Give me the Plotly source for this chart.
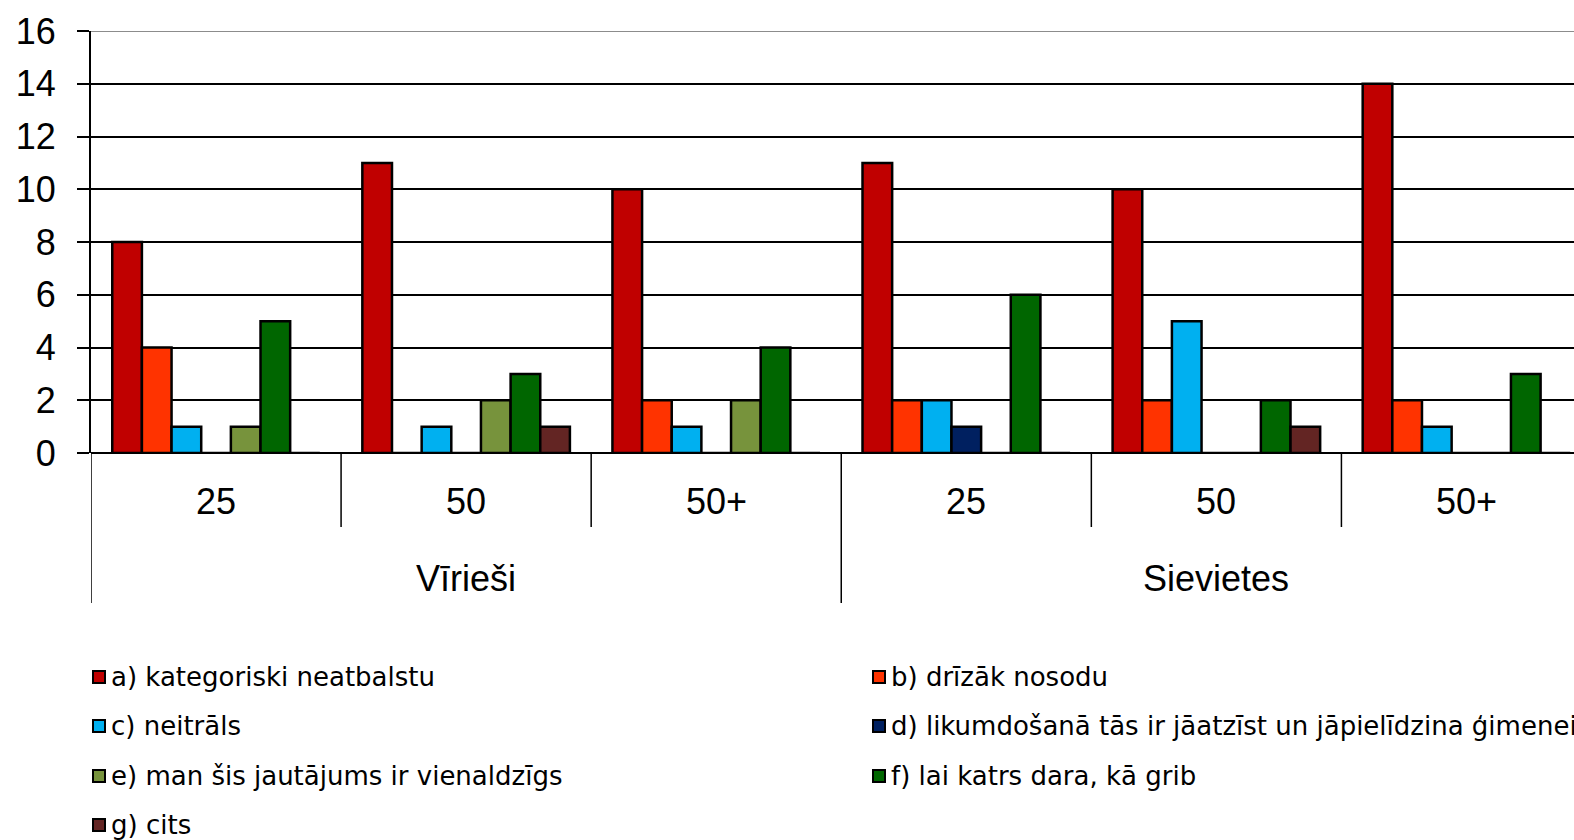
import plotly.graph_objects as go

# age groups within each gender
age_labels = ["25", "50", "50+", "25", "50", "50+"]
gender_labels = ["Vīrieši", "Sievietes"]

series_names = [
    "a) kategoriski neatbalstu",
    "b) drīzāk nosodu",
    "c) neitrāls",
    "d) likumdošanā tās ir jāatzīst un jāpielīdzina ģimenei",
    "e) man šis jautājums ir vienaldzīgs",
    "f) lai katrs dara, kā grib",
    "g) cits",
]
a_vals = [8, 11, 10, 11, 10, 14]
b_vals = [4, 0, 2, 2, 2, 2]
c_vals = [1, 1, 1, 2, 5, 1]
d_vals = [0, 0, 0, 1, 0, 0]
e_vals = [1, 2, 2, 0, 0, 0]
f_vals = [5, 3, 4, 6, 2, 3]
g_vals = [0, 1, 0, 0, 1, 0]
all_vals = [a_vals, b_vals, c_vals, d_vals, e_vals, f_vals, g_vals]

colors = ["#C00000", "#FF3300", "#00B0F0", "#002060", "#77933C", "#006600", "#632523"]

FONT = "Liberation Sans, Arial, sans-serif"
LEG_FONT = "DejaVu Sans, Verdana, sans-serif"

W, H = 1574, 840
ML, MR, MT, MB = 91, 0, 31, 387
PW, PH = W - ML - MR, H - MT - MB


def px_x(px):
    return (px - ML) / PW


def px_y(py):
    return (H - MB - py) / PH


x_pos = list(range(len(age_labels)))

fig = go.Figure()
for name, vals, col in zip(series_names, all_vals, colors):
    fig.add_trace(go.Bar(
        x=x_pos, y=vals, name=name, showlegend=False,
        marker=dict(color=col, line=dict(color="black", width=2.5)),
    ))

shapes = []
# gray top border
shapes.append(dict(type="line", xref="paper", yref="y", x0=0, x1=1, y0=16, y1=16,
                   line=dict(color="#8c8c8c", width=2)))
# dividers between age groups
for i in range(len(age_labels) + 1):
    xb = i - 0.5
    long_div = i % 3 == 0
    shapes.append(dict(type="line", xref="x", yref="paper", x0=xb, x1=xb,
                       y0=0, y1=px_y(603) if long_div else px_y(527),
                       line=dict(color="black", width=1.5)))

annotations = []
for i, lab in enumerate(age_labels):
    annotations.append(dict(x=i, y=px_y(502), xref="x", yref="paper", text=lab,
                            yanchor="middle", showarrow=False,
                            font=dict(size=36, color="black", family=FONT)))
for g, lab in enumerate(gender_labels):
    annotations.append(dict(x=g * 3 + 1, y=px_y(578), xref="x", yref="paper", text=lab,
                            yanchor="middle", showarrow=False,
                            font=dict(size=36, color="black", family=FONT)))

# manual two-column legend
col_x = [93, 873]
row_y = [677, 726, 776, 825]
for k, (name, col) in enumerate(zip(series_names, colors)):
    cx = col_x[k % 2]
    cy = row_y[k // 2]
    shapes.append(dict(type="rect", xref="paper", yref="paper",
                       x0=px_x(cx), x1=px_x(cx + 12), y0=px_y(cy - 6), y1=px_y(cy + 6),
                       fillcolor=col, line=dict(color="black", width=2)))
    annotations.append(dict(x=px_x(cx + 16), y=px_y(cy), xref="paper", yref="paper",
                            xanchor="left", yanchor="middle", text=name, showarrow=False,
                            font=dict(size=26, color="black", family=LEG_FONT)))

fig.update_layout(
    width=W, height=H,
    margin=dict(l=ML, r=MR, t=MT, b=MB),
    paper_bgcolor="white", plot_bgcolor="white",
    barmode="group", bargap=0.17, bargroupgap=0,
    font=dict(family=FONT, color="black"),
    shapes=shapes,
    annotations=annotations,
    showlegend=False,
)
fig.update_xaxes(range=[-0.5, 5.43], showticklabels=False, showgrid=False,
                 zeroline=False, showline=False, ticks="")
fig.update_yaxes(range=[0, 16], dtick=2, showgrid=True, gridcolor="black", gridwidth=2,
                 zeroline=True, zerolinecolor="black", zerolinewidth=2,
                 showline=True, linecolor="black", linewidth=2,
                 ticks="outside", ticklen=12, tickwidth=2, tickcolor="black",
                 ticklabelstandoff=14,
                 tickfont=dict(size=36, family=FONT, color="black"))

# drop the default page margin so the figure sits at the window's corner
fig.write_html("out.html", config={"displayModeBar": False},
               post_script="document.body.style.margin='0';")
